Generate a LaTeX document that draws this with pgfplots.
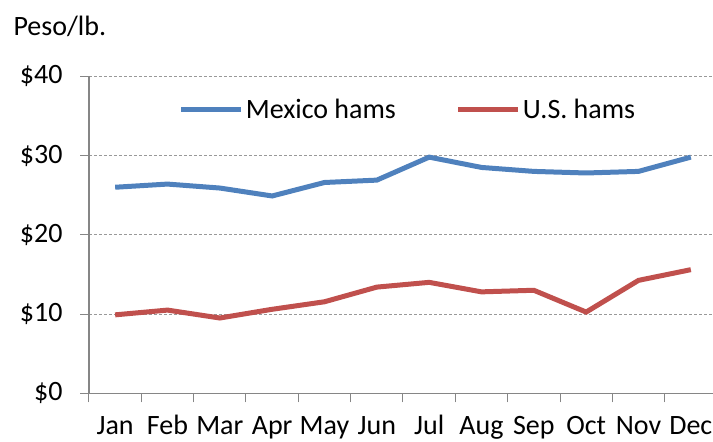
\documentclass[border=0pt]{standalone}
\usepackage{pgfplots}
\pgfplotsset{compat=1.18}
\usepackage{fontspec}
\setmainfont{Carlito}
\definecolor{mxblue}{HTML}{4F81BD}
\definecolor{usred}{HTML}{C0504D}
\definecolor{axgray}{HTML}{868686}
\begin{document}
\begin{tikzpicture}
\begin{axis}[
  scale only axis, width=628pt, height=317pt,
  xmin=0.5, xmax=12.5, ymin=0, ymax=40,
  clip=false,
  axis x line=bottom, axis y line=left,
  axis line style={-, axgray, line width=1.2pt},
  xtick={1,...,12},
  xticklabels={Jan,Feb,Mar,Apr,May,Jun,Jul,Aug,Sep,Oct,Nov,Dec},
  major x tick style={draw=none},
  minor xtick={0.5,1.5,...,12.5},
  tick align=outside,
  major tick length=9pt, minor tick length=9pt,
  tick style={axgray, line width=1pt},
  ytick={0,10,20,30,40},
  yticklabels={\$0,\$10,\$20,\$30,\$40},
  ymajorgrids,
  grid style={dashed, gray!80, line width=0.8pt, dash pattern=on 3pt off 2pt},
  ticklabel style={font=\fontsize{28}{32}\selectfont, text=black},
  yticklabel style={xshift=-14pt},
  xticklabel style={anchor=north, text height=19pt, text depth=5pt, inner sep=0pt, yshift=-13pt},
  legend style={at={(0.508,0.894)}, anchor=center, draw=none, fill=none,
    font=\fontsize{28}{32}\selectfont, text=black,
    nodes={inner sep=2pt},
    /tikz/every even column/.append style={column sep=58pt}},
  legend columns=2,
  legend image code/.code={\draw[#1, line width=5pt] (0pt,0pt) -- (60pt,0pt);},
]
\addplot[mxblue, line width=5pt] coordinates {
  (1,26.0) (2,26.4) (3,25.9) (4,24.9) (5,26.6) (6,26.9)
  (7,29.8) (8,28.5) (9,28.0) (10,27.8) (11,28.0) (12,29.8)};
\addlegendentry{Mexico hams}
\addplot[usred, line width=5pt] coordinates {
  (1,9.9) (2,10.5) (3,9.5) (4,10.6) (5,11.55) (6,13.4)
  (7,14.0) (8,12.8) (9,13.0) (10,10.25) (11,14.25) (12,15.6)};
\addlegendentry{U.S. hams}
\node[anchor=base west, font=\fontsize{28}{32}\selectfont, text=black]
  at (rel axis cs:-0.1258,1.130) {Peso/lb.};
\end{axis}
\pgfresetboundingbox
\path[use as bounding box] (current axis.south west) ++(-89pt,-48.7pt) rectangle ++(713pt,442pt);
\end{tikzpicture}
\end{document}
